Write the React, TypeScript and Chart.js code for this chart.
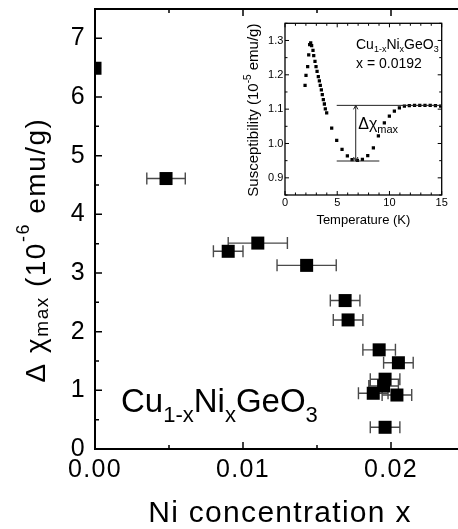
import React, { useEffect, useRef } from 'react';
import { Chart, registerables } from 'chart.js';

Chart.register(...registerables);

const FONT = "'Liberation Sans', Arial, Helvetica, sans-serif";

// ---- main panel data ----
const niConcentration = [0, 0.0048, 0.009, 0.011, 0.0143, 0.0169, 0.0171, 0.0192, 0.0205, 0.0196, 0.0195, 0.0188, 0.0204, 0.0196];
const deltaChiMax = [6.49, 4.61, 3.37, 3.51, 3.13, 2.53, 2.2, 1.69, 1.47, 1.19, 1.075, 0.95, 0.92, 0.37];
const niConcentrationErr = [0, 0.0013, 0.001, 0.002, 0.002, 0.001, 0.001, 0.0011, 0.001, 0.001, 0.001, 0.001, 0.001, 0.001];
const mainXTickLabels = ['0.00', '0.01', '0.02'];
const mainYTickLabels = ['0', '1', '2', '3', '4', '5', '6', '7'];

// ---- inset data ----
const temperatureK = [1.92, 2.01, 2.17, 2.27, 2.36, 2.46, 2.55, 2.68, 2.75, 2.87, 2.97, 3.07, 3.19, 3.29, 3.38, 3.48, 3.57, 3.67, 3.77, 3.86, 3.99, 4.47, 4.95, 5.46, 5.97, 6.42, 6.93, 7.41, 7.92, 8.46, 8.94, 9.51, 9.99, 10.47, 10.95, 11.43, 11.9, 12.4, 12.9, 13.4, 13.9, 14.4, 14.9];
const susceptibility = [1.169, 1.198, 1.224, 1.258, 1.288, 1.293, 1.285, 1.271, 1.256, 1.239, 1.224, 1.21, 1.195, 1.182, 1.169, 1.156, 1.142, 1.128, 1.115, 1.101, 1.089, 1.045, 1.009, 0.983, 0.964, 0.953, 0.951, 0.954, 0.965, 0.987, 1.022, 1.06, 1.08, 1.094, 1.104, 1.109, 1.11, 1.111, 1.111, 1.111, 1.111, 1.11, 1.109];
const insetXTickLabels = ['0', '5', '10', '15'];
const insetYTickLabels = ['0.9', '1.0', '1.1', '1.2', '1.3'];
const chiUpperLevel = 1.111;
const chiLowerLevel = 0.949;
const upperLevelSpan = [4.95, 15];
const lowerLevelSpan = [4.95, 9.03];
const arrowTemperature = 6.77;

type Seg = { t: string; size: number; dy: number };

function drawRich(ctx: CanvasRenderingContext2D, segs: Seg[], x: number, y: number) {
  let cx = x;
  for (const s of segs) {
    ctx.font = `${s.size}px ${FONT}`;
    ctx.fillText(s.t, cx, y + s.dy);
    cx += ctx.measureText(s.t).width;
  }
}
function richWidth(ctx: CanvasRenderingContext2D, segs: Seg[]) {
  let w = 0;
  for (const s of segs) {
    ctx.font = `${s.size}px ${FONT}`;
    w += ctx.measureText(s.t).width;
  }
  return w;
}

function labelFor(list: string[], v: number) {
  const hit = list.find((l) => Math.abs(parseFloat(l) - v) < 1e-9);
  return hit === undefined ? '' : hit;
}

function drawFrameTicks(chart: any, o: { frame: number; tick: number; major: number; minor: number; majX: (v: number) => boolean; majY: (v: number) => boolean }) {
  const { ctx, chartArea: a, scales } = chart;
  const x = scales.x, y = scales.y;
  ctx.save();
  ctx.strokeStyle = '#000';
  ctx.lineWidth = o.tick;
  ctx.beginPath();
  x.ticks.forEach((t: any) => {
    const p = x.getPixelForValue(t.value);
    const L = o.majX(t.value) ? o.major : o.minor;
    ctx.moveTo(p, a.bottom); ctx.lineTo(p, a.bottom - L);
    ctx.moveTo(p, a.top); ctx.lineTo(p, a.top + L);
  });
  y.ticks.forEach((t: any) => {
    const p = y.getPixelForValue(t.value);
    const L = o.majY(t.value) ? o.major : o.minor;
    ctx.moveTo(a.left, p); ctx.lineTo(a.left + L, p);
    ctx.moveTo(a.right, p); ctx.lineTo(a.right - L, p);
  });
  ctx.stroke();
  ctx.lineWidth = o.frame;
  ctx.strokeRect(a.left, a.top, a.right - a.left, a.bottom - a.top);
  ctx.restore();
}

const near = (v: number, step: number) => Math.abs(v / step - Math.round(v / step)) < 1e-6;

const mainPlugin = {
  id: 'mainDecor',
  beforeDraw(chart: any) {
    (chart.ctx as any).letterSpacing = '1.3px';
  },
  beforeDatasetsDraw(chart: any) {
    const { ctx, chartArea: a, scales } = chart;
    const x = scales.x, y = scales.y;
    ctx.save();
    ctx.beginPath();
    ctx.rect(a.left, a.top, a.right - a.left, a.bottom - a.top);
    ctx.clip();
    ctx.strokeStyle = '#4a4a4a';
    ctx.lineWidth = 1.4;
    ctx.beginPath();
    niConcentration.forEach((v, i) => {
      const e = niConcentrationErr[i];
      if (!e) return;
      const py = y.getPixelForValue(deltaChiMax[i]);
      const x0 = x.getPixelForValue(v - e);
      const x1 = x.getPixelForValue(v + e);
      ctx.moveTo(x0, py); ctx.lineTo(x1, py);
      ctx.moveTo(x0, py - 6); ctx.lineTo(x0, py + 6);
      ctx.moveTo(x1, py - 6); ctx.lineTo(x1, py + 6);
    });
    ctx.stroke();
    ctx.restore();
  },
  afterDraw(chart: any) {
    const { ctx, chartArea: a } = chart;
    drawFrameTicks(chart, { frame: 2, tick: 1.5, major: 7, minor: 4, majX: (v) => near(v, 0.01), majY: (v) => near(v, 1) });
    ctx.save();
    ctx.fillStyle = '#000';
    ctx.textAlign = 'left';
    ctx.textBaseline = 'alphabetic';
    // y-axis title
    (ctx as any).letterSpacing = '1.5px';
    const ySegs: Seg[] = [
      { t: 'Δ χ', size: 28, dy: 0 },
      { t: 'max', size: 19, dy: 3 },
      { t: ' (10', size: 28, dy: 0 },
      { t: '-6', size: 18, dy: -16 },
      { t: ' emu/g)', size: 28, dy: 0 },
    ];
    const w = richWidth(ctx, ySegs);
    ctx.save();
    ctx.translate(45, 250);
    ctx.rotate(-Math.PI / 2);
    drawRich(ctx, ySegs, -w / 2, 0);
    ctx.restore();
    // compound annotation
    (ctx as any).letterSpacing = '0px';
    drawRich(ctx, [
      { t: 'Cu', size: 33, dy: 0 },
      { t: '1-x', size: 22, dy: 10 },
      { t: 'Ni', size: 33, dy: 0 },
      { t: 'x', size: 22, dy: 10 },
      { t: 'GeO', size: 33, dy: 0 },
      { t: '3', size: 22, dy: 10 },
    ], a.left + 26, a.bottom - 37.5);
    ctx.restore();
  },
};

const insetPlugin = {
  id: 'insetDecor',
  afterDraw(chart: any) {
    const { ctx, chartArea: a, scales } = chart;
    const x = scales.x, y = scales.y;
    drawFrameTicks(chart, { frame: 1.3, tick: 1, major: 4, minor: 2.5, majX: (v) => near(v, 5), majY: (v) => near(v, 0.1) });
    ctx.save();
    ctx.strokeStyle = '#222';
    ctx.lineWidth = 1;
    const yu = y.getPixelForValue(chiUpperLevel);
    const yl = y.getPixelForValue(chiLowerLevel);
    const xa = x.getPixelForValue(arrowTemperature);
    ctx.beginPath();
    ctx.moveTo(x.getPixelForValue(upperLevelSpan[0]), yu); ctx.lineTo(x.getPixelForValue(upperLevelSpan[1]), yu);
    ctx.moveTo(x.getPixelForValue(lowerLevelSpan[0]), yl); ctx.lineTo(x.getPixelForValue(lowerLevelSpan[1]), yl);
    ctx.moveTo(xa, yu); ctx.lineTo(xa, yl);
    ctx.moveTo(xa - 2.2, yu + 4); ctx.lineTo(xa, yu); ctx.lineTo(xa + 2.2, yu + 4);
    ctx.moveTo(xa - 2.2, yl - 4); ctx.lineTo(xa, yl); ctx.lineTo(xa + 2.2, yl - 4);
    ctx.stroke();

    ctx.fillStyle = '#000';
    ctx.textAlign = 'left';
    ctx.textBaseline = 'alphabetic';
    drawRich(ctx, [
      { t: 'Δχ', size: 16, dy: 0 },
      { t: 'max', size: 11, dy: 4 },
    ], xa + 2.5, a.top + 105.7);
    drawRich(ctx, [
      { t: 'Cu', size: 14, dy: 0 },
      { t: '1-x', size: 9, dy: 3 },
      { t: 'Ni', size: 14, dy: 0 },
      { t: 'x', size: 9, dy: 3 },
      { t: 'GeO', size: 14, dy: 0 },
      { t: '3', size: 9, dy: 3 },
    ], a.left + 71, a.top + 25.7);
    drawRich(ctx, [{ t: 'x = 0.0192', size: 14, dy: 0 }], a.left + 71, a.top + 45);

    const ySegs: Seg[] = [
      { t: 'Susceptibility (10', size: 15, dy: 0 },
      { t: '-5', size: 10, dy: -7 },
      { t: ' emu/g)', size: 15, dy: 0 },
    ];
    const w = richWidth(ctx, ySegs);
    ctx.save();
    ctx.translate(28, (a.top + a.bottom) / 2 + 1);
    ctx.rotate(-Math.PI / 2);
    drawRich(ctx, ySegs, -w / 2, 0);
    ctx.restore();
    ctx.restore();
  },
};

export default function App() {
  const mainRef = useRef<HTMLCanvasElement>(null);
  const insetRef = useRef<HTMLCanvasElement>(null);

  useEffect(() => {
    document.body.style.margin = '0';
    const mainChart = new Chart(mainRef.current as HTMLCanvasElement, {
      type: 'scatter',
      data: {
        datasets: [
          {
            data: niConcentration.map((v, i) => ({ x: v, y: deltaChiMax[i] })),
            pointStyle: 'rect',
            pointRadius: 9.2,
            pointHoverRadius: 9.2,
            backgroundColor: '#000',
            borderColor: '#000',
            borderWidth: 0,
            clip: 0,
          } as any,
        ],
      },
      options: {
        animation: false,
        responsive: false,
        events: [],
        layout: { autoPadding: false, padding: { left: 0, top: 9, right: 5, bottom: 0 } },
        plugins: { legend: { display: false }, tooltip: { enabled: false } },
        scales: {
          x: {
            type: 'linear',
            min: 0,
            max: 0.025,
            grid: { display: false, drawTicks: false },
            border: { display: false },
            ticks: {
              stepSize: 0.005,
              maxTicksLimit: 100,
              autoSkip: false,
              maxRotation: 0,
              padding: 6,
              color: '#000',
              font: { family: FONT, size: 25 },
              callback: (v: any) => labelFor(mainXTickLabels, Number(v)),
            },
            title: {
              display: true,
              text: 'Ni concentration x',
              color: '#000',
              font: { family: FONT, size: 30, lineHeight: 1 },
              padding: { top: 0, bottom: 0 },
            },
            afterFit: (s: any) => {
              s.height = 80;
              s.paddingLeft = 0; s.paddingRight = 0; s.paddingTop = 0; s.paddingBottom = 0;
            },
          },
          y: {
            type: 'linear',
            min: 0,
            max: 7.5,
            grid: { display: false, drawTicks: false },
            border: { display: false },
            ticks: {
              stepSize: 0.5,
              maxTicksLimit: 100,
              autoSkip: false,
              padding: 9,
              color: '#000',
              font: { family: FONT, size: 25 },
              callback: (v: any) => labelFor(mainYTickLabels, Number(v)),
            },
            afterFit: (s: any) => {
              s.width = 95;
              s.paddingLeft = 0; s.paddingRight = 0; s.paddingTop = 0; s.paddingBottom = 0;
            },
          },
        },
      } as any,
      plugins: [mainPlugin],
    });

    const insetChart = new Chart(insetRef.current as HTMLCanvasElement, {
      type: 'scatter',
      data: {
        datasets: [
          {
            data: temperatureK.map((t, i) => ({ x: t, y: susceptibility[i] })),
            pointStyle: 'rect',
            pointRadius: 2.3,
            pointHoverRadius: 2.3,
            backgroundColor: '#000',
            borderColor: '#000',
            borderWidth: 0,
          } as any,
        ],
      },
      options: {
        animation: false,
        responsive: false,
        events: [],
        layout: { autoPadding: false, padding: { left: 0, top: 13.3, right: 16.3, bottom: 0 } },
        plugins: { legend: { display: false }, tooltip: { enabled: false } },
        scales: {
          x: {
            type: 'linear',
            min: 0,
            max: 15,
            grid: { display: false, drawTicks: false },
            border: { display: false },
            ticks: {
              stepSize: 1,
              maxTicksLimit: 100,
              autoSkip: false,
              maxRotation: 0,
              padding: 1.5,
              color: '#000',
              font: { family: FONT, size: 11 },
              callback: (v: any) => labelFor(insetXTickLabels, Number(v)),
            },
            title: {
              display: true,
              text: 'Temperature (K)',
              color: '#000',
              font: { family: FONT, size: 13, lineHeight: 1 },
              padding: { top: 0, bottom: 5 },
            },
            afterFit: (s: any) => {
              s.height = 37;
              s.paddingLeft = 0; s.paddingRight = 0; s.paddingTop = 0; s.paddingBottom = 0;
            },
          },
          y: {
            type: 'linear',
            min: 0.85,
            max: 1.35,
            grid: { display: false, drawTicks: false },
            border: { display: false },
            ticks: {
              stepSize: 0.05,
              maxTicksLimit: 100,
              autoSkip: false,
              padding: 1.7,
              color: '#000',
              font: { family: FONT, size: 11 },
              callback: (v: any) => labelFor(insetYTickLabels, Number(v)),
            },
            afterFit: (s: any) => {
              s.width = 55;
              s.paddingLeft = 0; s.paddingRight = 0; s.paddingTop = 0; s.paddingBottom = 0;
            },
          },
        },
      } as any,
      plugins: [insetPlugin],
    });

    return () => {
      mainChart.destroy();
      insetChart.destroy();
    };
  }, []);

  return (
    <div style={{ position: 'relative', width: 458, height: 529, overflow: 'hidden', background: '#fff' }}>
      <canvas ref={mainRef} width={470} height={529} style={{ position: 'absolute', left: 0, top: 0, width: 470, height: 529 }} />
      <canvas ref={insetRef} width={228} height={222} style={{ position: 'absolute', left: 230, top: 10, width: 228, height: 222 }} />
    </div>
  );
}
